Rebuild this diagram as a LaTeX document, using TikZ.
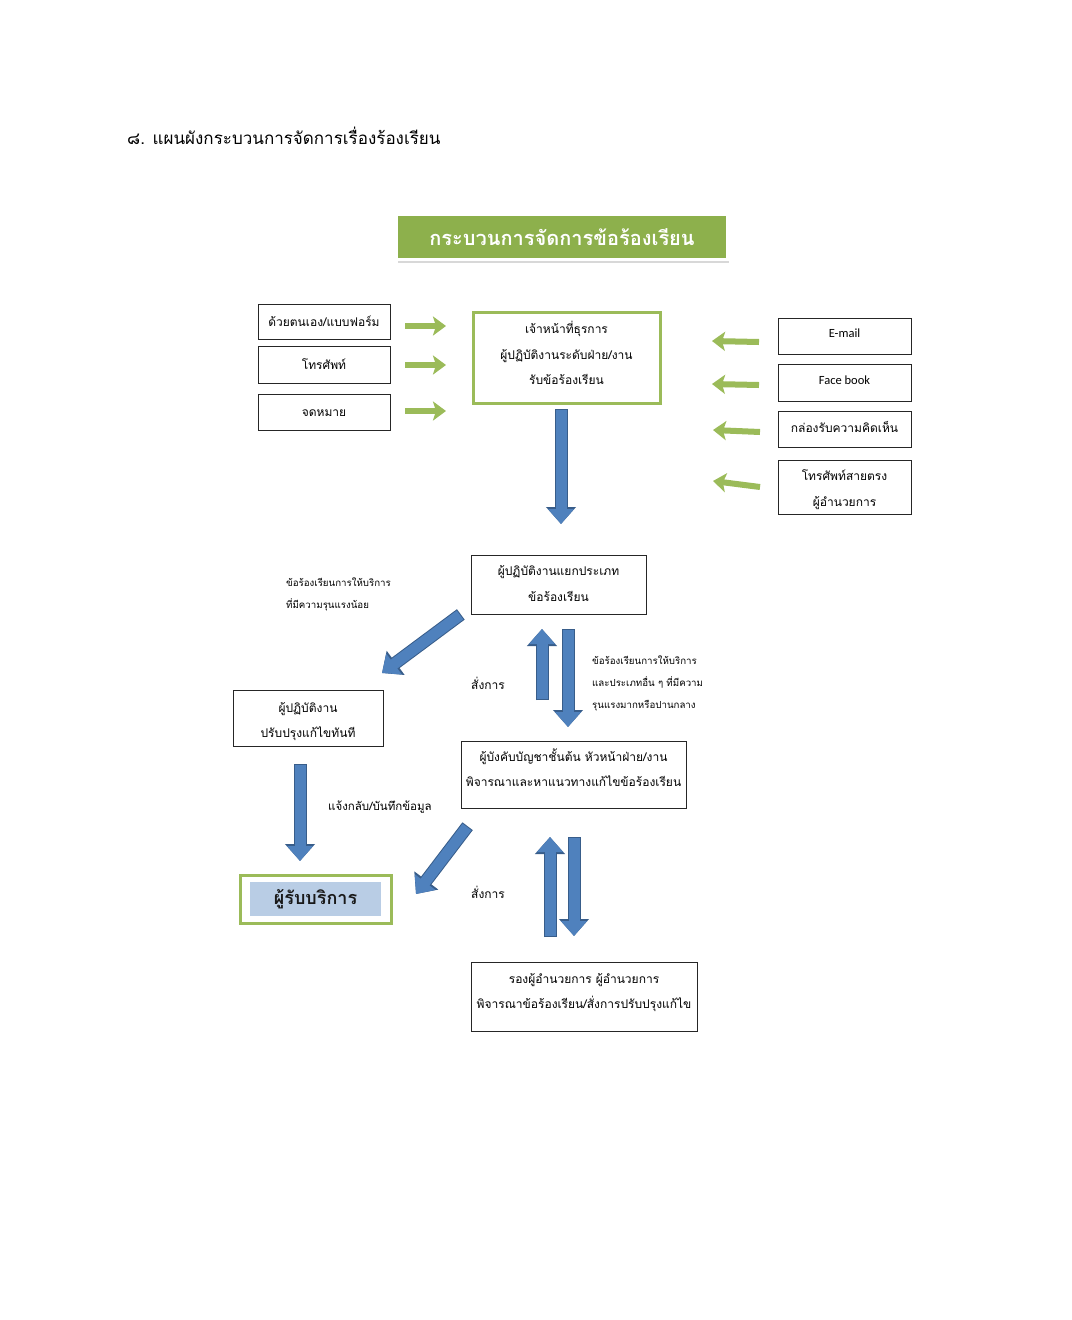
\documentclass[tikz,border=0pt]{standalone}
\usepackage{fontspec}
\newfontfamily\thai[Script=Thai]{Loma}
\newfontfamily\latinf{Carlito}
\usetikzlibrary{arrows.meta,shadows}
\definecolor{gbord}{HTML}{9BBB59}
\definecolor{gfill}{HTML}{8DB04C}
\definecolor{bfill}{HTML}{4F81BD}
\definecolor{bline}{HTML}{385D8A}
\definecolor{lblue}{HTML}{B9CDE5}
\newcommand\boxtxt[2]{\raisebox{#1}[0pt][0pt]{\begin{tabular}{@{}c@{}}#2\end{tabular}}}
\tikzset{
  box/.style={draw=black!85, line width=0.9pt, inner sep=0pt,
    font=\thai\fontsize{12}{25.5}\selectfont},
  gbox/.style={box, draw=gbord, line width=3pt},
  lbl/.style={align=left, anchor=west, inner sep=0pt, font=\thai\fontsize{9.7}{22}\selectfont},
  cmd/.style={anchor=west, inner sep=0pt, font=\thai\fontsize{12}{14}\selectfont},
  garrow/.style={draw=gbord, line width=6pt, -{Stealth[length=13pt,width=19pt,inset=3pt]}},
  barrow/.style={draw=bfill, line width=11pt, -{Triangle[length=15pt,width=25pt]},
    preaction={draw=bline, line width=13pt, shorten <=-1pt, -{Triangle[length=17pt,width=29pt]}}},
}
\begin{document}
\begin{tikzpicture}[x=1pt,y=-1pt]
\useasboundingbox[fill=white] (0,0) rectangle (1071,1320);

% title
\node[anchor=west, inner sep=0pt, font=\thai\fontsize{17}{20}\selectfont] (title) at (127,136)
  {๘. แผนผังกระบวนการจัดการเรื่องร้องเรียน};

% banner
\node[fill=gfill, draw=white, line width=3pt, minimum width=331pt, minimum height=45pt,
  drop shadow={opacity=0.3, shadow xshift=1pt, shadow yshift=-3pt},
  text=white, font=\thai\bfseries\fontsize{20}{22}\selectfont] (banner) at (562,237)
  {กระบวนการจัดการข้อร้องเรียน};

% left source boxes
\node[box, minimum width=132pt, minimum height=35pt] (l1) at (324,321.5) {\boxtxt{-2.5pt}{ด้วยตนเอง/แบบฟอร์ม}};
\node[box, minimum width=132pt, minimum height=37pt] (l2) at (324,364.5) {\boxtxt{-2.5pt}{โทรศัพท์}};
\node[box, minimum width=132pt, minimum height=36pt] (l3) at (324,412) {\boxtxt{-2pt}{จดหมาย}};

% central reception box
\node[gbox, minimum width=187pt, minimum height=91pt] (c1) at (566.5,357.5)
  {\boxtxt{0.5pt}{เจ้าหน้าที่ธุรการ\\ผู้ปฏิบัติงานระดับฝ่าย/งาน\\รับข้อร้องเรียน}};

% right source boxes
\node[box, minimum width=133pt, minimum height=36pt, font=\latinf\fontsize{12.5}{25.5}\selectfont] (r1) at (844.5,336) {\boxtxt{1pt}{E-mail}};
\node[box, minimum width=133pt, minimum height=37pt, font=\latinf\fontsize{12.5}{25.5}\selectfont] (r2) at (844.5,382.5) {\boxtxt{0.5pt}{Face book}};
\node[box, minimum width=133pt, minimum height=36pt] (r3) at (844.5,429) {\boxtxt{-1pt}{กล่องรับความคิดเห็น}};
\node[box, minimum width=133pt, minimum height=54pt] (r4) at (844.5,487) {\boxtxt{-4.5pt}{โทรศัพท์สายตรง\\ผู้อำนวยการ}};

% green arrows
\coordinate (ga1s) at (405,326); \coordinate (ga1e) at (446,326);
\coordinate (ga2s) at (405,365); \coordinate (ga2e) at (446,365);
\coordinate (ga3s) at (405,411); \coordinate (ga3e) at (446,411);
\draw[garrow] (ga1s) -- (ga1e);
\draw[garrow] (ga2s) -- (ga2e);
\draw[garrow] (ga3s) -- (ga3e);
\coordinate (gb1s) at (759,342); \coordinate (gb1e) at (712,341);
\coordinate (gb2s) at (759,385); \coordinate (gb2e) at (712,384);
\coordinate (gb3s) at (760,432); \coordinate (gb3e) at (713,430);
\coordinate (gb4s) at (760,487); \coordinate (gb4e) at (713,481);
\draw[garrow] (gb1s) -- (gb1e);
\draw[garrow] (gb2s) -- (gb2e);
\draw[garrow] (gb3s) -- (gb3e);
\draw[garrow] (gb4s) -- (gb4e);

% classification box
\node[box, minimum width=175pt, minimum height=59pt] (n2) at (558.5,584.5)
  {\boxtxt{-2pt}{ผู้ปฏิบัติงานแยกประเภท\\ข้อร้องเรียน}};
\coordinate (a1s) at (561,410); \coordinate (a1e) at (561,524);
\draw[barrow] (a1s) -- (a1e);

% immediate fix box
\node[box, minimum width=150pt, minimum height=56pt] (n3) at (308,718)
  {\boxtxt{-5pt}{ผู้ปฏิบัติงาน\\ปรับปรุงแก้ไขทันที}};
\coordinate (a2s) at (460,615); \coordinate (a2e) at (382,673);
\draw[barrow] (a2s) -- (a2e);
\node[lbl] (lab1) at (286,594) {ข้อร้องเรียนการให้บริการ\\ที่มีความรุนแรงน้อย};

% supervisor box
\node[box, minimum width=225pt, minimum height=67pt] (n4) at (573.5,774.5)
  {\boxtxt{2.5pt}{ผู้บังคับบัญชาชั้นต้น หัวหน้าฝ่าย/งาน\\พิจารณาและหาแนวทางแก้ไขข้อร้องเรียน}};
\coordinate (a3s) at (542,699); \coordinate (a3e) at (542,629);
\coordinate (a4s) at (568,630); \coordinate (a4e) at (568,727);
\draw[barrow] (a3s) -- (a3e);
\draw[barrow] (a4s) -- (a4e);
\node[cmd] (cmd1) at (471,683) {สั่งการ};
\node[lbl] (lab2) at (592,683) {ข้อร้องเรียนการให้บริการ\\และประเภทอื่น ๆ ที่มีความ\\รุนแรงมากหรือปานกลาง};

% service recipient
\node[draw=gbord, line width=3pt, fill=white, minimum width=151pt, minimum height=48pt, inner sep=0pt] (svc) at (315.5,899) {};
\node[fill=lblue, minimum width=131pt, minimum height=34pt, inner sep=0pt, text=black!90,
  font=\thai\bfseries\fontsize{18}{20}\selectfont] (svctext) at (315.5,899) {ผู้รับบริการ};
\coordinate (a5s) at (300,765); \coordinate (a5e) at (300,861);
\draw[barrow] (a5s) -- (a5e);
\node[anchor=west, inner sep=0pt, font=\thai\fontsize{11.5}{14}\selectfont] (lab3) at (328,807) {แจ้งกลับ/บันทึกข้อมูล};
\coordinate (a6s) at (467,827); \coordinate (a6e) at (416,894);
\draw[barrow] (a6s) -- (a6e);

% director box
\node[box, minimum width=226pt, minimum height=69pt] (n5) at (584,996.5)
  {\boxtxt{2.5pt}{รองผู้อำนวยการ ผู้อำนวยการ\\พิจารณาข้อร้องเรียน/สั่งการปรับปรุงแก้ไข}};
\coordinate (a7s) at (550,936); \coordinate (a7e) at (550,837);
\coordinate (a8s) at (574,838); \coordinate (a8e) at (574,936);
\draw[barrow] (a7s) -- (a7e);
\draw[barrow] (a8s) -- (a8e);
\node[cmd] (cmd2) at (471,892) {สั่งการ};
\end{tikzpicture}
\end{document}
